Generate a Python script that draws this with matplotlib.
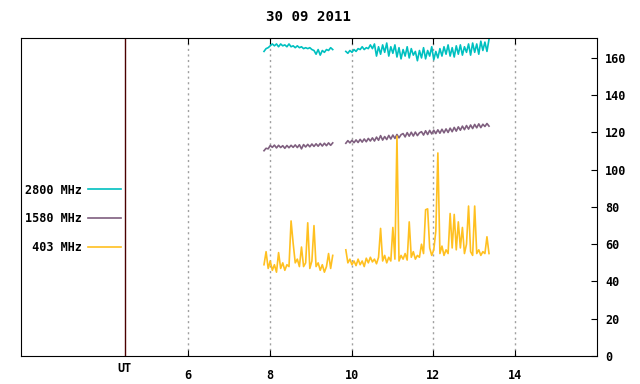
import numpy as np
import matplotlib.pyplot as plt

# Radio flux records, 30 Sep 2011 (UT hours)
seg1_start, seg1_end = 7.86, 9.54
seg2_start, seg2_end = 9.86, 13.36

flux_2800_a = [163.5, 165, 165.5, 166.5, 167.5, 166.5, 167.5, 166, 167.5, 166.5,
               167, 166, 167.5, 166, 166.5, 165.5, 166.5, 165.5, 166, 165,
               165.5, 165, 165.5, 164.5, 164, 162, 164.5, 161.5, 164, 163,
               164.5, 164, 165.5, 164.5]
flux_2800_b = [163.5, 162.5, 164, 163, 164.5, 163.5, 165, 164.5, 166, 164.5,
               165.5, 165, 167, 165,
               167.5, 161, 166, 162, 167, 163, 168, 161, 166, 162.5, 167, 160.5, 165.5,
               159.5, 164.5, 161, 166, 160, 165, 161.5, 163.5, 158.5, 164,
               160, 165.5, 159.5, 164, 161, 166, 159, 163.5, 160, 165,
               161, 166, 162, 167, 161, 165.5, 160.5, 166.5, 162, 167,
               161.5, 166, 163, 167.5, 161.5,
               168, 163, 167.5, 162, 169, 164, 168.5, 163.5, 170]

flux_1580_a = [110.2, 111.5, 111.2, 113.0, 112.0, 113.2, 111.7, 113.1, 111.9, 112.9,
               111.5, 113.0, 111.8, 113.1, 112.0, 113.3, 111.9, 113.4, 111.2, 113.5,
               112.2, 113.6, 112.3, 113.8, 112.5, 113.9, 112.6, 114.1, 112.7, 114.2,
               112.9, 114.4, 113.1, 114.4]
flux_1580_b = [114.2, 115.6, 114.4, 115.8, 114.5, 116.0, 114.6, 116.3, 114.8, 116.5,
               115.0, 116.8, 115.4,
               117.1, 115.4, 117.5, 115.8, 118.3, 115.9, 117.8, 116.2, 118.4, 116.5,
               118.6, 116.8, 118.9, 117.1, 118.8,
               119.4, 117.6, 119.9, 118.0, 120.1, 118.1, 120.2, 118.3, 119.8, 120.4,
               118.6, 120.9, 118.9, 121.1, 119.2, 121.2, 119.4, 121.4, 119.6,
               121.7, 119.8, 121.9, 120.0, 122.3, 120.4, 122.7, 120.7, 123.0, 121.2,
               123.4, 121.5, 123.7, 121.8, 124.0, 122.1, 124.3, 122.5, 124.6, 122.6,
               124.4, 123.2, 124.8, 123.4]

flux_403_a = [49, 56, 47, 51, 46, 49, 45, 55.5, 47, 50,
              46, 49, 48, 72.5, 60.5, 50, 52, 48, 58.5, 48,
              50, 71.5, 47, 51, 70, 48, 50, 46, 49, 45,
              48, 55, 47, 54]
flux_403_b = [57, 50, 52, 49, 51, 48.5, 52, 49, 51, 48,
              52.5, 50, 53, 50.5, 52, 49.5, 53, 68.5, 51, 54,
              50, 53, 51, 69, 52, 118, 51, 54, 52, 55,
              51.5, 72, 53, 56, 52, 54, 53, 60, 55, 78.5,
              79, 58, 54, 57, 67, 109, 55, 59, 54, 57,
              55, 76.5, 58, 76, 57, 72, 58, 69, 55, 60,
              80.5, 56, 54, 80.5, 55, 57, 54, 56, 55, 64, 55]

labels = ["2800 MHz", "1580 MHz", " 403 MHz"]
colors = ["#00c0c0", "#7f5f7f", "#ffc020"]
series = [(flux_2800_a, flux_2800_b), (flux_1580_a, flux_1580_b), (flux_403_a, flux_403_b)]

xticks = [6, 8, 10, 12, 14]
yticks = [0, 20, 40, 60, 80, 100, 120, 140, 160]
ut_pos = 4.46

plt.rcParams['font.family'] = ['DejaVu Sans Mono']
plt.rcParams['font.weight'] = 'bold'
plt.rcParams['font.size'] = 8.5

fig = plt.figure(figsize=(6.4, 3.84), dpi=100)
ax = fig.add_axes([21 / 640, 1 - 356 / 384, 576 / 640, 318 / 384])

for (a, b), c, lab in zip(series, colors, labels):
    ta = np.linspace(seg1_start, seg1_end, len(a))
    tb = np.linspace(seg2_start, seg2_end, len(b))
    ax.plot(ta, a, color=c, lw=1.2, label=lab)
    ax.plot(tb, b, color=c, lw=1.2)

ax.axvline(ut_pos, color="#4b0000", lw=1)
for xt in xticks:
    ax.axvline(xt, color="#a0a0a0", lw=1, dashes=(1.5, 2.5), zorder=0)

ax.set_xlim(1.92, 16.0)
ax.set_ylim(0, 170.7)
ax.set_xticks(xticks)
ax.yaxis.tick_right()
ax.set_yticks(yticks)
ax.tick_params(axis='x', direction='in', top=True, bottom=True, length=4.5, pad=9.5)
ax.tick_params(axis='y', direction='in', left=False, right=True, length=4.5, pad=6)
ax.text(ut_pos, -0.04, "UT", transform=ax.get_xaxis_transform(), ha='center', va='center')

ax.set_title("30 09 2011", pad=12, fontweight='bold')

ax.legend(loc='center right', bbox_to_anchor=(0.1736, 0.431), frameon=False,
          markerfirst=False, handlelength=2.8, handletextpad=0.5,
          labelspacing=1.34, borderpad=0, borderaxespad=0)

fig.savefig("out.png", dpi=100)
